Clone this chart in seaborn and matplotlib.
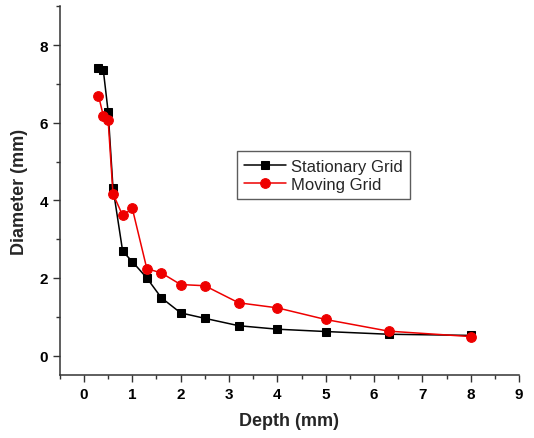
import numpy as np
import matplotlib
matplotlib.use("Agg")
import matplotlib.pyplot as plt
import seaborn as sns
import pandas as pd
from matplotlib.ticker import MultipleLocator

# values
depth = [0.3, 0.4, 0.5, 0.6, 0.8, 1.0, 1.3, 1.6, 2.0, 2.5, 3.2, 4.0, 5.0, 6.3, 8.0]
stationary = [7.42, 7.35, 6.28, 4.32, 2.69, 2.42, 2.0, 1.49, 1.1, 0.96, 0.77, 0.68, 0.62, 0.55, 0.52]
moving = [6.7, 6.18, 6.06, 4.17, 3.61, 3.79, 2.24, 2.13, 1.83, 1.8, 1.36, 1.23, 0.93, 0.63, 0.49]

df = pd.DataFrame({"Depth": depth, "Stationary Grid": stationary, "Moving Grid": moving})

sns.set_style("ticks")
plt.rcParams['font.family'] = ['Liberation Sans', 'DejaVu Sans']

fig = plt.figure(figsize=(5.34, 4.39), dpi=100)
ax = fig.add_axes([0.112, 0.1435, 0.86, 0.84])

sns.lineplot(data=df, x="Depth", y="Stationary Grid", ax=ax, color="black", marker="s",
             markersize=6, markeredgecolor="black", linewidth=1.1, label="Stationary Grid")
sns.lineplot(data=df, x="Depth", y="Moving Grid", ax=ax, color="#ee0000", marker="o",
             markersize=7, markeredgecolor="#ee0000", linewidth=1.1, label="Moving Grid")

ax.set_xlim(-0.5, 9)
ax.set_ylim(-0.5, 9)
ax.xaxis.set_major_locator(MultipleLocator(1))
ax.xaxis.set_minor_locator(MultipleLocator(0.5))
ax.yaxis.set_major_locator(MultipleLocator(2))
ax.yaxis.set_minor_locator(MultipleLocator(1))
ax.tick_params(which="major", direction="out", length=5, width=1, labelsize=11, colors="#333333", labelcolor="black")
ax.tick_params(which="minor", direction="out", length=3, width=1, colors="#333333")
for lab in ax.get_xticklabels() + ax.get_yticklabels():
    lab.set_fontweight("bold")

sns.despine(ax=ax)
for s in ["left", "bottom"]:
    ax.spines[s].set_linewidth(1.1)
    ax.spines[s].set_color("#333333")

ax.set_xlabel("Depth (mm)", fontsize=13, fontweight="bold", labelpad=8)
ax.set_ylabel("Diameter (mm)", fontsize=13, fontweight="bold", labelpad=8)

leg = ax.legend(loc="upper left", bbox_to_anchor=(0.385, 0.607), fontsize=12, frameon=True,
                fancybox=False, handlelength=2.5, borderpad=0.45, labelspacing=0.2,
                handletextpad=0.3, borderaxespad=0)
leg.get_frame().set_edgecolor("#333333")
leg.get_frame().set_linewidth(1.0)

fig.savefig("out.png", dpi=100)
